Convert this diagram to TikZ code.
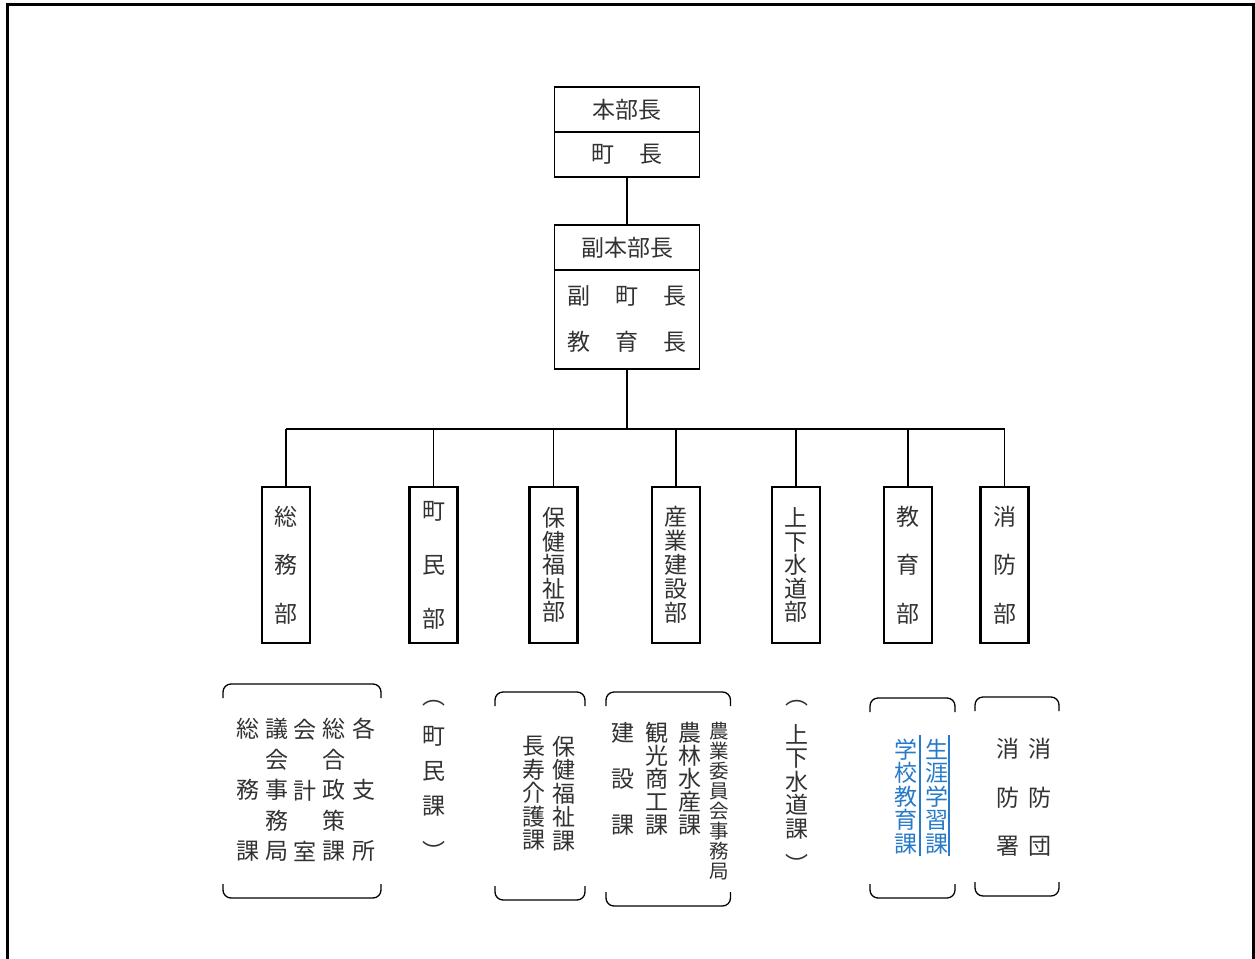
\documentclass[tikz,border=0pt]{standalone}
\usepackage{fontspec}
\newfontfamily\cjk{Noto Sans CJK JP}
\definecolor{txt}{RGB}{50,50,50}
\definecolor{blu}{RGB}{38,122,200}
\tikzset{
  frameline/.style={line width=3pt, draw=black},
  hbox/.style={draw, line width=1.8pt, minimum width=145pt, inner sep=0pt, text=txt, align=center},
  dept/.style={draw, line width=2.2pt, minimum width=48pt, minimum height=156pt, inner sep=0pt, align=center, text=txt},
  conn/.style={line width=1.2pt},
  thickconn/.style={line width=2.4pt},
  brk/.style={line width=1.3pt, rounded corners=8pt},
  vt/.style={align=center, inner sep=0pt, text=txt},
  fs/.style={font=\cjk\fontsize{23}{#1}\selectfont},
  fsm/.style={font=\cjk\fontsize{19.5}{#1}\selectfont},
  bluetext/.style={text=blu},
  blueline/.style={draw=blu, line width=1.6pt},
}
\newcommand\bracketpair[4]{%
  \draw[brk] (#1,{#3+14}) -- (#1,#3) -- (#2,#3) -- (#2,{#3+14});
  \draw[brk] (#1,{#4-14}) -- (#1,#4) -- (#2,#4) -- (#2,{#4-14});
}
\newcommand\gap{\phantom{会}}
\begin{document}
\begin{tikzpicture}[x=1pt,y=-1pt]
\useasboundingbox (0,0) rectangle (1255,958);
% outer frame
\draw[frameline] (7.2,965) -- (7.2,5) -- (1253,5) -- (1253,965);

% headquarters
\node[hbox, fs=24, minimum height=45pt] (hq1) at (627,109.5) {本部長};
\node[hbox, fs=24, minimum height=45pt] (hq2) at (627,154.5) {町\hspace{25pt}長};
\node[hbox, fs=24, minimum height=45pt] (vc1) at (627,247.5) {副本部長};
\node[hbox, fs=46, minimum height=99pt] (vc2) at (627,319.5) {副\hspace{25pt}町\hspace{25pt}長\\教\hspace{25pt}育\hspace{25pt}長};

% departments
\node[dept, fs=48.5] (d1) at (286,565) {総\\務\\部};
\node[dept, fs=54]   (d2) at (433.5,565) {町\\民\\部};
\node[dept, fs=23.5] (d3) at (553.5,565) {保\\健\\福\\祉\\部};
\node[dept, fs=24]   (d4) at (676,565) {産\\業\\建\\設\\部};
\node[dept, fs=23.5] (d5) at (796,565) {上\\下\\水\\道\\部};
\node[dept, fs=48.5] (d6) at (908,565) {教\\育\\部};
\node[dept, fs=48.5] (d7) at (1004.5,565) {消\\防\\部};

% connectors
\coordinate (bus) at (627,429);
\draw[conn] (hq2.south) -- (vc1.north);
\draw[thickconn] (vc2.south) -- (bus);
\draw[conn] (d1.north |- bus) -- (d7.north |- bus);
\foreach \d in {d1,d2,d3,d4,d5,d6,d7}{
  \draw[conn] (\d.north) -- (\d.north |- bus);
}

% section lists
% soumu
\bracketpair{223}{381}{684}{898}
\node[vt, fs=30.5] (s1) at (248,790) {総\\\gap\\務\\\gap\\課};
\node[vt, fs=30.5] (s2) at (277,790) {議\\会\\事\\務\\局};
\node[vt, fs=30.5] (s3) at (305,790) {会\\\gap\\計\\\gap\\室};
\node[vt, fs=30.5] (s4) at (334,790) {総\\合\\政\\策\\課};
\node[vt, fs=30.5] (s5) at (364,790) {各\\\gap\\支\\\gap\\所};

% chomin
\node[vt, fs=35] (c0) at (434,703) {︵};
\node[vt, fs=35] (c1) at (434,771) {町\\民\\課};
\node[vt, fs=35] (c2) at (434,851) {︶};

% hoken
\bracketpair{495}{585}{692}{900}
\node[vt, fs=23.5] (h1) at (563.5,793.5) {保\\健\\福\\祉\\課};
\node[vt, fs=23.5] (h2) at (534,793.5) {長\\寿\\介\\護\\課};

% sangyo
\bracketpair{606}{730.5}{692}{906}
\node[vt, fsm=20] (g1) at (719,801) {農\\業\\委\\員\\会\\事\\務\\局};
\node[vt, fs=23] (g2) at (689.5,778.5) {農\\林\\水\\産\\課};
\node[vt, fs=23] (g3) at (657,778.5) {観\\光\\商\\工\\課};
\node[vt, fs=23] (g4) at (623,778.5) {建\\\gap\\設\\\gap\\課};

% jogesuido
\node[vt, fs=23.5] (j0) at (797,703) {︵};
\node[vt, fs=23.5] (j1) at (797,781.5) {上\\下\\水\\道\\課};
\node[vt, fs=23.5] (j2) at (797,864) {︶};

% kyoiku
\bracketpair{870}{955}{698}{898}
\node[vt, bluetext, fs=23.5] (k1) at (937,796.5) {生\\涯\\学\\習\\課};
\node[vt, bluetext, fs=23.5] (k2) at (906,796.5) {学\\校\\教\\育\\課};
\draw[blueline] (920,735) -- (920,856);
\draw[blueline] (949,735) -- (949,856);

% shobo
\bracketpair{975}{1059}{697}{896}
\node[vt, fs=48.5] (f1) at (1040,797.5) {消\\防\\団};
\node[vt, fs=48.5] (f2) at (1008,797.5) {消\\防\\署};
\end{tikzpicture}
\end{document}
